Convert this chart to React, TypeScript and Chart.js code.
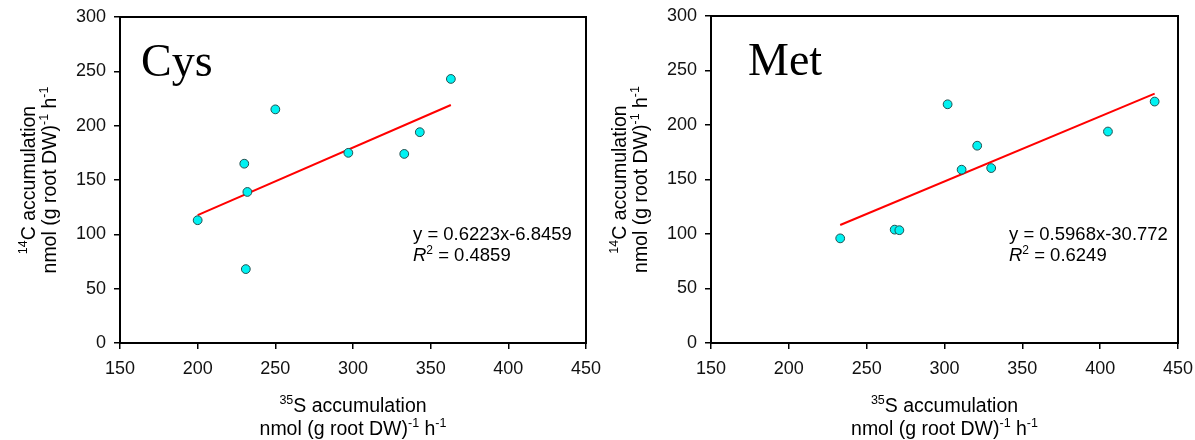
import React, { useEffect, useRef } from 'react';
import { Chart, registerables } from 'chart.js';

Chart.register(...registerables);

// ---------- data ----------
const xTickValues = [150, 200, 250, 300, 350, 400, 450];
const yTickValues = [0, 50, 100, 150, 200, 250, 300];

const cysName = 'Cys';
const cysX = [200, 230, 232, 231, 250, 297, 333, 343, 363];
const cysY = [113, 165, 139, 68, 215, 175, 174, 194, 243];
const cysSlope = 0.6223;
const cysIntercept = -6.8459;
const cysR2 = 0.4859;

const metName = 'Met';
const metX = [233, 268, 271, 302, 311, 321, 330, 405, 435];
const metY = [96, 104, 103.5, 219, 159, 181, 160.5, 194, 221.5];
const metSlope = 0.5968;
const metIntercept = -30.772;
const metR2 = 0.6249;

const yTitleSup = '14';
const yTitleMain = 'C accumulation';
const xTitleSup = '35';
const xTitleMain = 'S accumulation';
const unitMain = 'nmol (g root DW)';
const unitSup = '-1';
const unitH = ' h';

// ---------- layout / style ----------
const SANS = '"Liberation Sans", Arial, sans-serif';
const SERIF = '"Liberation Serif", "Times New Roman", serif';

type Panel = {
  name: string;
  xs: number[];
  ys: number[];
  slope: number;
  intercept: number;
  r2: number;
  canvasLeft: number;
  canvasWidth: number;
  areaLeft: number;
  areaRight: number;
  areaTop: number;
  nameDx: number;
  eqDx: number;
};

const panels: Panel[] = [
  {
    name: cysName, xs: cysX, ys: cysY, slope: cysSlope, intercept: cysIntercept, r2: cysR2,
    canvasLeft: 0, canvasWidth: 615, areaLeft: 120, areaRight: 586, areaTop: 17, nameDx: 21, eqDx: 293,
  },
  {
    name: metName, xs: metX, ys: metY, slope: metSlope, intercept: metIntercept, r2: metR2,
    canvasLeft: 597, canvasWidth: 598, areaLeft: 114, areaRight: 581, areaTop: 16, nameDx: 37, eqDx: 298,
  },
];

const H = 440;
const AREA_BOTTOM = 343;

type Run = { t: string; size: number; italic?: boolean; sup?: boolean };

function drawRuns(ctx: CanvasRenderingContext2D, runs: Run[], x: number, baseline: number, align: 'center' | 'left') {
  const fontOf = (r: Run) => `${r.italic ? 'italic ' : ''}${r.size}px ${SANS}`;
  const widths = runs.map((r) => {
    ctx.font = fontOf(r);
    return ctx.measureText(r.t).width;
  });
  const total = widths.reduce((a, b) => a + b, 0);
  let cx = align === 'center' ? x - total / 2 : x;
  ctx.textAlign = 'left';
  ctx.textBaseline = 'alphabetic';
  runs.forEach((r, i) => {
    ctx.font = fontOf(r);
    ctx.fillText(r.t, cx, baseline - (r.sup ? r.size * 0.62 : 0));
    cx += widths[i];
  });
}

function makeChart(canvas: HTMLCanvasElement, p: Panel) {
  const pts = p.xs.map((x, i) => ({ x, y: p.ys[i] }));
  const xmin = Math.min(...p.xs);
  const xmax = Math.max(...p.xs);
  const trend = [
    { x: xmin, y: p.slope * xmin + p.intercept },
    { x: xmax, y: p.slope * xmax + p.intercept },
  ];
  const eqText = `y = ${p.slope}x${p.intercept < 0 ? '' : '+'}${p.intercept}`;
  const r2Text = ` = ${p.r2}`;

  const TS = 19.5; // axis title size
  const SS = 12.5; // superscript size
  const ES = 18.5; // equation size

  const decor = {
    id: 'decor',
    afterDraw(chart: any) {
      const ctx: CanvasRenderingContext2D = chart.ctx;
      const a = chart.chartArea;
      ctx.save();
      // frame
      ctx.strokeStyle = '#000';
      ctx.lineWidth = 2;
      ctx.strokeRect(a.left, a.top, a.right - a.left, a.bottom - a.top);

      ctx.fillStyle = '#000';
      // panel name
      ctx.font = `46px ${SERIF}`;
      ctx.textAlign = 'left';
      ctx.textBaseline = 'alphabetic';
      ctx.fillText(p.name, a.left + p.nameDx, a.top + 59);

      // equation
      drawRuns(ctx, [{ t: eqText, size: ES }], a.left + p.eqDx, 240, 'left');
      drawRuns(
        ctx,
        [
          { t: 'R', size: ES, italic: true },
          { t: '2', size: 12, sup: true },
          { t: r2Text, size: ES },
        ],
        a.left + p.eqDx,
        261,
        'left'
      );

      // x-axis title
      const cx = (a.left + a.right) / 2;
      drawRuns(ctx, [{ t: xTitleSup, size: SS, sup: true }, { t: xTitleMain, size: TS }], cx, a.bottom + 69, 'center');
      drawRuns(
        ctx,
        [
          { t: unitMain, size: TS },
          { t: unitSup, size: SS, sup: true },
          { t: unitH, size: TS },
          { t: unitSup, size: SS, sup: true },
        ],
        cx,
        a.bottom + 92,
        'center'
      );

      // y-axis title (rotated)
      const cy = (a.top + a.bottom) / 2;
      ctx.save();
      ctx.translate(a.left - 85, cy);
      ctx.rotate(-Math.PI / 2);
      drawRuns(ctx, [{ t: yTitleSup, size: SS, sup: true }, { t: yTitleMain, size: TS }], 0, 0, 'center');
      ctx.restore();
      ctx.save();
      ctx.translate(a.left - 64, cy);
      ctx.rotate(-Math.PI / 2);
      drawRuns(
        ctx,
        [
          { t: unitMain, size: TS },
          { t: unitSup, size: SS, sup: true },
          { t: unitH, size: TS },
          { t: unitSup, size: SS, sup: true },
        ],
        0,
        0,
        'center'
      );
      ctx.restore();
      ctx.restore();
    },
  };

  const tickFont = { family: SANS, size: 18 };

  return new Chart(canvas, {
    type: 'scatter',
    data: {
      datasets: [
        {
          data: pts,
          backgroundColor: '#00f2f2',
          borderColor: '#245050',
          borderWidth: 1,
          pointRadius: 4.4,
          order: 0,
        },
        {
          data: trend,
          showLine: true,
          borderColor: '#ff0000',
          borderWidth: 2,
          pointRadius: 0,
          fill: false,
          order: 1,
        } as any,
      ],
    },
    options: {
      animation: false,
      responsive: false,
      devicePixelRatio: 1,
      layout: {
        padding: { left: 0, top: p.areaTop, right: p.canvasWidth - p.areaRight, bottom: 0 },
      },
      plugins: { legend: { display: false }, tooltip: { enabled: false } },
      scales: {
        x: {
          type: 'linear',
          min: xTickValues[0],
          max: xTickValues[xTickValues.length - 1],
          afterBuildTicks: (s: any) => {
            s.ticks = xTickValues.map((v) => ({ value: v }));
          },
          ticks: { color: '#111', font: tickFont, padding: 9, maxRotation: 0, autoSkip: false },
          grid: { display: true, drawOnChartArea: false, drawTicks: true, tickLength: 6, color: '#000', lineWidth: 1.5 },
          border: { display: false },
          afterFit: (s: any) => {
            s.height = H - AREA_BOTTOM;
            s.paddingLeft = 0;
            s.paddingRight = 0;
            s.paddingTop = 0;
            s.paddingBottom = 0;
          },
        },
        y: {
          type: 'linear',
          min: yTickValues[0],
          max: yTickValues[yTickValues.length - 1],
          afterBuildTicks: (s: any) => {
            s.ticks = yTickValues.map((v) => ({ value: v }));
          },
          ticks: { color: '#111', font: tickFont, padding: 8, autoSkip: false },
          grid: { display: true, drawOnChartArea: false, drawTicks: true, tickLength: 6, color: '#000', lineWidth: 1.5 },
          border: { display: false },
          afterFit: (s: any) => {
            s.width = p.areaLeft;
            s.paddingLeft = 0;
            s.paddingRight = 0;
            s.paddingTop = 0;
            s.paddingBottom = 0;
          },
        },
      },
    } as any,
    plugins: [decor],
  });
}

function ChartCanvas({ panel }: { panel: Panel }) {
  const ref = useRef<HTMLCanvasElement | null>(null);
  useEffect(() => {
    if (!ref.current) return;
    const chart = makeChart(ref.current, panel);
    return () => chart.destroy();
  }, [panel]);
  return (
    <canvas
      ref={ref}
      width={panel.canvasWidth}
      height={H}
      style={{ position: 'absolute', left: panel.canvasLeft, top: 0, width: panel.canvasWidth, height: H }}
    />
  );
}

export default function App() {
  useEffect(() => {
    document.body.style.margin = '0';
    document.body.style.background = '#fff';
  }, []);
  return (
    <div style={{ position: 'relative', width: 1195, height: H, background: '#fff', overflow: 'hidden' }}>
      {panels.map((p) => (
        <ChartCanvas key={p.name} panel={p} />
      ))}
    </div>
  );
}
